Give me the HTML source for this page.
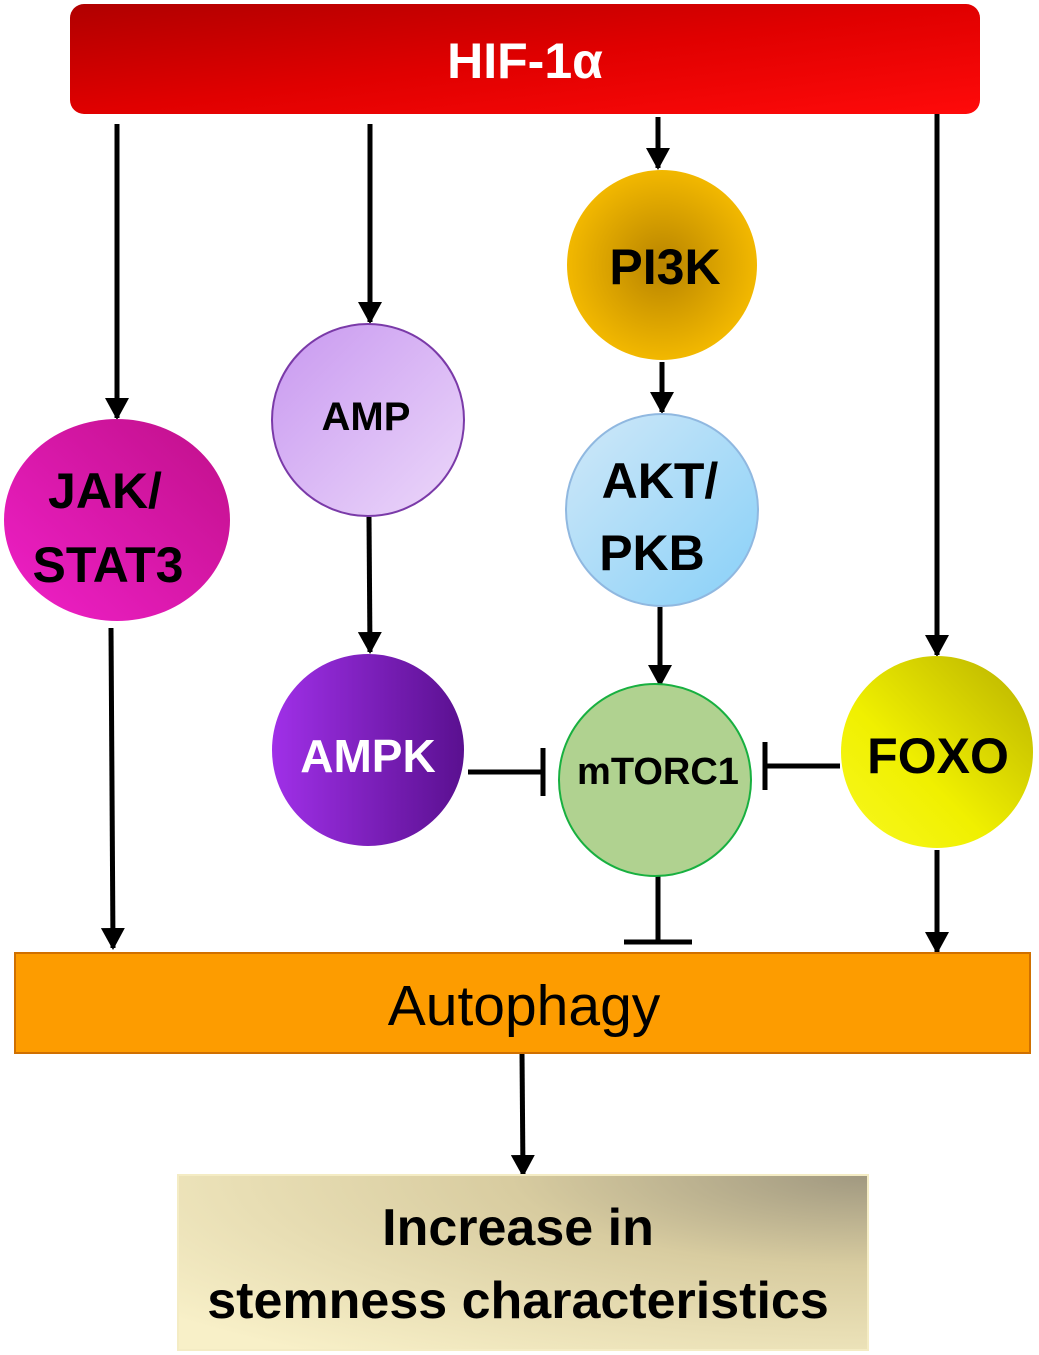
<!DOCTYPE html>
<html><head><meta charset="utf-8"><style>
html,body{margin:0;padding:0;background:#fff;}
svg{display:block;}
text{font-family:"Liberation Sans","DejaVu Sans",sans-serif;font-weight:bold;}
</style></head><body>
<svg width="1039" height="1355" viewBox="0 0 1039 1355" xmlns="http://www.w3.org/2000/svg">
<defs>
<linearGradient id="hif" x1="0" y1="0" x2="1" y2="1">
<stop offset="0" stop-color="#b00000"/><stop offset="0.5" stop-color="#e00000"/><stop offset="1" stop-color="#ff0a0a"/></linearGradient>
<radialGradient id="pi3k"><stop offset="0" stop-color="#b88400"/><stop offset="1" stop-color="#f2b800"/></radialGradient>
<linearGradient id="jak" x1="1" y1="0" x2="0" y2="1"><stop offset="0" stop-color="#c0108a"/><stop offset="1" stop-color="#f020c8"/></linearGradient>
<linearGradient id="amp" x1="0" y1="0" x2="1" y2="1"><stop offset="0" stop-color="#c898f0"/><stop offset="1" stop-color="#ecd8fa"/></linearGradient>
<linearGradient id="ampk" x1="0" y1="0" x2="1" y2="0"><stop offset="0" stop-color="#a030e8"/><stop offset="1" stop-color="#5a1090"/></linearGradient>
<linearGradient id="akt" x1="0" y1="0" x2="1" y2="1"><stop offset="0" stop-color="#d0e8f8"/><stop offset="1" stop-color="#88d0f8"/></linearGradient>
<linearGradient id="foxo" x1="1" y1="0" x2="0" y2="1"><stop offset="0" stop-color="#b8b000"/><stop offset="0.6" stop-color="#f0f000"/><stop offset="1" stop-color="#f8f820"/></linearGradient>
<radialGradient id="inc" cx="1" cy="0" r="1.3"><stop offset="0" stop-color="#a09880"/><stop offset="0.4" stop-color="#d8cca0"/><stop offset="1" stop-color="#f8f0c8"/></radialGradient>
<marker id="a2" markerWidth="22" markerHeight="24" refX="20" refY="12" orient="auto" markerUnits="userSpaceOnUse">
<path d="M0,0 L22,12 L0,24 z" fill="#000"/></marker>
</defs>
<rect x="70" y="4" width="910" height="110" rx="14" fill="url(#hif)"/>
<text x="525" y="78" font-size="50" fill="#fff" text-anchor="middle">HIF-1α</text>

<g stroke="#000" stroke-width="5" fill="none">
<line x1="117" y1="124" x2="117" y2="418" marker-end="url(#a2)"/>
<line x1="370" y1="124" x2="370" y2="322" marker-end="url(#a2)"/>
<line x1="658" y1="117" x2="658" y2="168" marker-end="url(#a2)"/>
<line x1="937" y1="114" x2="937" y2="655" marker-end="url(#a2)"/>
<line x1="662" y1="362" x2="662" y2="412" marker-end="url(#a2)"/>
<line x1="369" y1="517" x2="370" y2="652" marker-end="url(#a2)"/>
<line x1="660" y1="607" x2="660" y2="685" marker-end="url(#a2)"/>
<line x1="111" y1="628" x2="113" y2="948" marker-end="url(#a2)"/>
<line x1="937" y1="850" x2="937" y2="952" marker-end="url(#a2)"/>
<line x1="522" y1="1053" x2="523" y2="1175" marker-end="url(#a2)"/>
<line x1="468" y1="772" x2="543" y2="772"/>
<line x1="543" y1="748" x2="543" y2="796"/>
<line x1="840" y1="766" x2="765" y2="766"/>
<line x1="765" y1="742" x2="765" y2="790"/>
<line x1="658" y1="876" x2="658" y2="942"/>
<line x1="624" y1="942" x2="692" y2="942"/>
</g>

<ellipse cx="117" cy="520" rx="113" ry="101" fill="url(#jak)"/>
<text x="105" y="508" font-size="50" text-anchor="middle" fill="#000">JAK/</text>
<text x="108" y="582" font-size="50" text-anchor="middle" fill="#000">STAT3</text>

<circle cx="368" cy="420" r="96" fill="url(#amp)" stroke="#7a3aa8" stroke-width="2"/>
<text x="366" y="430" font-size="40" text-anchor="middle" fill="#000">AMP</text>

<circle cx="368" cy="750" r="96" fill="url(#ampk)"/>
<text x="368" y="772" font-size="46" text-anchor="middle" fill="#fff">AMPK</text>

<circle cx="662" cy="265" r="95" fill="url(#pi3k)"/>
<text x="665" y="284" font-size="50" text-anchor="middle" fill="#000">PI3K</text>

<circle cx="662" cy="510" r="96" fill="url(#akt)" stroke="#90b8e0" stroke-width="2"/>
<text x="660" y="498" font-size="50" text-anchor="middle" fill="#000">AKT/</text>
<text x="652" y="570" font-size="50" text-anchor="middle" fill="#000">PKB</text>

<circle cx="655" cy="780" r="96" fill="#b0d290" stroke="#18b040" stroke-width="2"/>
<text x="658" y="784" font-size="38" text-anchor="middle" fill="#000">mTORC1</text>

<circle cx="937" cy="752" r="96" fill="url(#foxo)"/>
<text x="938" y="773" font-size="50" text-anchor="middle" fill="#000">FOXO</text>

<rect x="15" y="953" width="1015" height="100" fill="#fd9c00" stroke="#d07000" stroke-width="2"/>
<text x="524" y="1025" font-size="57" text-anchor="middle" fill="#000" style="font-weight:normal">Autophagy</text>

<rect x="178" y="1175" width="690" height="175" fill="url(#inc)" stroke="#f4ecc4" stroke-width="2"/>
<text x="518" y="1245" font-size="52" text-anchor="middle" fill="#000">Increase in</text>
<text x="518" y="1318" font-size="52" text-anchor="middle" fill="#000">stemness characteristics</text>
</svg>
</body></html>
